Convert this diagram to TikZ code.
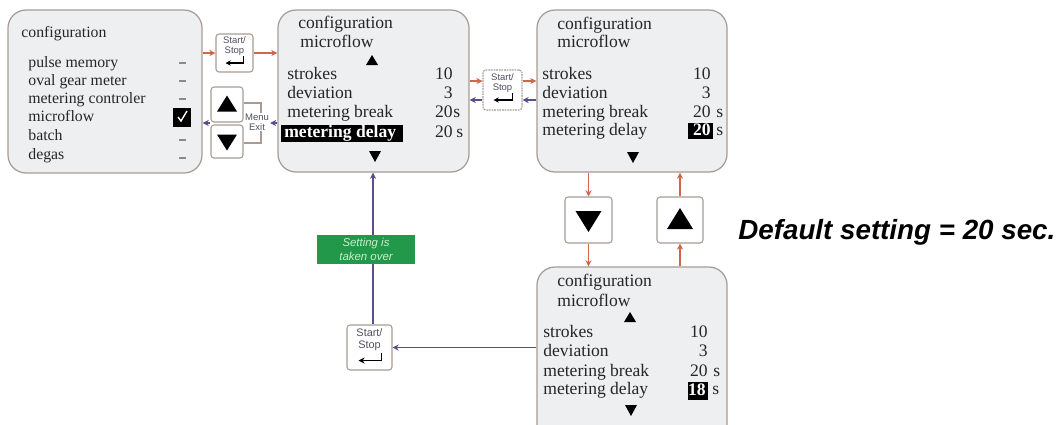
\documentclass[tikz,border=0pt]{standalone}
\usepackage{fontspec}
\setmainfont{Liberation Serif}
\setsansfont{Liberation Sans}
\usetikzlibrary{fit,arrows.meta,calc}
\definecolor{panelfill}{HTML}{EDEFF1}
\definecolor{panelline}{HTML}{A89C94}
\definecolor{redline}{HTML}{D0664A}
\definecolor{purpline}{HTML}{5B4D8C}
\definecolor{greenbox}{HTML}{22994A}
\definecolor{greentext}{HTML}{C8EEC8}
\definecolor{dashgray}{HTML}{8A8A8A}
\definecolor{btntext}{HTML}{505060}
\tikzset{
  panel/.style={draw=panelline, line width=0.7pt, fill=panelfill, rounded corners=0.36cm, inner sep=0pt},
  keybox/.style={draw=panelline, line width=0.6pt, fill=white, rounded corners=0.06cm, inner sep=0pt},
  ptxt/.style={anchor=base west, inner sep=0pt, font=\fontsize{10}{12}\selectfont, text=black!85},
  ltxt/.style={anchor=base west, inner sep=0pt, font=\fontsize{9}{11}\selectfont, text=black!85},
  vtxt/.style={anchor=base east, inner sep=0pt, font=\fontsize{10}{12}\selectfont, text=black!85},
  redarr/.style={draw=redline, line width=0.6pt, -{Stealth[length=3.5pt,width=3.5pt]}},
  purarr/.style={draw=purpline, line width=0.7pt, -{Stealth[length=3.5pt,width=3.5pt]}},
  sstxt/.style={font=\sffamily\fontsize{5.4}{5.8}\selectfont, text=btntext, align=center, inner sep=0pt},
}
\begin{document}
\begin{tikzpicture}[x=0.02cm, y=-0.02cm]
\clip (0,0) rectangle (1060,424);
\fill[white] (0,0) rectangle (1060,424);

% ---------- panels ----------
\node[panel, fit={(8,10) (202,173)}] (b1) {};
\node[panel, fit={(278,10) (469,172)}] (b2) {};
\node[panel, fit={(537,10) (727,172)}] (b3) {};
\node[panel, fit={(537,267) (727,445)}] (b4) {};

% ---------- panel 1 text ----------
\node[ltxt] (t1a) at (21,37) {configuration};
\node[ltxt] (t1b) at (28,67) {pulse memory};
\node[ltxt] (t1c) at (28,85) {oval gear meter};
\node[ltxt] (t1d) at (28,103) {metering controler};
\node[ltxt] (t1e) at (28,121) {microflow};
\node[ltxt] (t1f) at (28,140) {batch};
\node[ltxt] (t1g) at (28,159) {degas};
\foreach \yy in {63,81,99,140,158} \draw[dashgray, line width=0.6pt] (179,\yy) -- (186,\yy);
\node[fill=black, minimum width=0.36cm, minimum height=0.38cm, inner sep=0pt] (chk) at (182,117) {};
\draw[white, line width=0.8pt] (178,117) -- (181,121) -- (187,111);

% ---------- panel 2 text ----------
\node[ptxt] (t2a) at (298,28) {configuration};
\node[ptxt] (t2b) at (300,47) {microflow};
\fill (366,65) -- (378,65) -- (372,55) -- cycle;
\node[ptxt] (t2c) at (287,79) {strokes};
\node[ptxt] (t2d) at (287,98) {deviation};
\node[ptxt] (t2e) at (287,117) {metering break};
\fill[black] (281,125) rectangle (403,142);
\node[ptxt, text=white, font=\fontsize{10}{12}\selectfont\bfseries] (t2f) at (284,137) {metering delay};
\node[vtxt] (v2a) at (453,79) {10};
\node[vtxt] (v2b) at (453,98) {3};
\node[vtxt] (v2c) at (453,117) {20};
\node[ptxt] (v2cs) at (453,117) {s};
\node[vtxt] (v2d) at (453,137) {20};
\node[ptxt] (v2ds) at (456,137) {s};
\fill (369,151) -- (381,151) -- (375,162) -- cycle;

% ---------- panel 3 text ----------
\node[ptxt] (t3a) at (557,29) {configuration};
\node[ptxt] (t3b) at (557,47) {microflow};
\node[ptxt] (t3c) at (542,79) {strokes};
\node[ptxt] (t3d) at (542,98) {deviation};
\node[ptxt] (t3e) at (542,117) {metering break};
\node[ptxt] (t3f) at (542,135) {metering delay};
\node[vtxt] (v3a) at (711,79) {10};
\node[vtxt] (v3b) at (711,98) {3};
\node[vtxt] (v3c) at (711,117) {20};
\node[ptxt] (v3cs) at (716,117) {s};
\fill[black] (688,123) rectangle (713,139);
\node[vtxt, text=white, font=\fontsize{10}{12}\selectfont\bfseries] (v3d) at (711,135) {20};
\node[ptxt] (v3ds) at (716,135) {s};
\fill (627,152) -- (639,152) -- (633,163) -- cycle;

% ---------- panel 4 text ----------
\node[ptxt] (t4a) at (557,286) {configuration};
\node[ptxt] (t4b) at (557,306) {microflow};
\fill (624,322) -- (636,322) -- (630,312) -- cycle;
\node[ptxt] (t4c) at (543,337) {strokes};
\node[ptxt] (t4d) at (543,356) {deviation};
\node[ptxt] (t4e) at (543,376) {metering break};
\node[ptxt] (t4f) at (543,394) {metering delay};
\node[vtxt] (v4a) at (708,337) {10};
\node[vtxt] (v4b) at (708,356) {3};
\node[vtxt] (v4c) at (708,376) {20};
\node[ptxt] (v4cs) at (713,376) {s};
\fill[black] (688,382) rectangle (708,400);
\node[vtxt, text=white, font=\fontsize{10}{12}\selectfont\bfseries] (v4d) at (706,395) {18};
\node[ptxt] (v4ds) at (712,394) {s};
\fill (625,405) -- (637,405) -- (631,416) -- cycle;

% ---------- keys ----------
\node[keybox, fit={(216,34) (253,72)}] (s1) {};
\node[sstxt] (s1t) at ($(s1.center)+(0,-7)$) {Start/\\Stop};
\draw[black, line width=1pt, -{Stealth[length=3pt,width=3pt]}] ($(s1.center)+(9,3)$) -- ($(s1.center)+(9,10)$) -- ($(s1.center)+(-9,10)$);

\node[keybox, fit={(211,87) (243,122)}] (up1) {};
\fill ($(up1.center)+(-10,7)$) -- ($(up1.center)+(10,7)$) -- ($(up1.center)+(0,-9)$) -- cycle;
\node[keybox, fit={(211,125) (243,158)}] (dn1) {};
\fill ($(dn1.center)+(-10,-7)$) -- ($(dn1.center)+(10,-7)$) -- ($(dn1.center)+(0,9)$) -- cycle;
\draw[panelline, line width=0.6pt] (up1.east |- 0,103) -- (261,103) -- (261,143) -- (dn1.east |- 0,143);
\node[sstxt, fill=white, inner sep=0.5pt] (me) at (257,122) {Menu\\Exit};

\node[keybox, dashed, dash pattern=on 1pt off 0.5pt, fit={(483,70) (522,110)}] (s2) {};
\node[sstxt] (s2t) at ($(s2.center)+(0,-7)$) {Start/\\Stop};
\draw[black, line width=1pt, -{Stealth[length=3pt,width=3pt]}] ($(s2.center)+(10,3)$) -- ($(s2.center)+(10,10)$) -- ($(s2.center)+(-9,10)$);

\node[keybox, fit={(565,197) (612,243)}] (dn2) {};
\fill ($(dn2.center)+(-13,-9)$) -- ($(dn2.center)+(13,-9)$) -- ($(dn2.center)+(0,12)$) -- cycle;
\node[keybox, fit={(657,197) (703,243)}] (up2) {};
\fill ($(up2.center)+(-13,9)$) -- ($(up2.center)+(13,9)$) -- ($(up2.center)+(0,-12)$) -- cycle;

\node[keybox, fit={(347,325) (392,370)}] (s3) {};
\node[sstxt, font=\sffamily\fontsize{6.2}{6.7}\selectfont] (s3t) at ($(s3.center)+(0,-8)$) {Start/\\Stop};
\draw[black, line width=1.1pt, -{Stealth[length=3.5pt,width=3.5pt]}] ($(s3.center)+(12,5)$) -- ($(s3.center)+(12,13)$) -- ($(s3.center)+(-11,13)$);

% ---------- connectors ----------
\coordinate (ry) at (0,81);
\coordinate (py) at (0,100);
\coordinate (lx) at (373,0);
\coordinate (my) at (0,123);
\draw[redarr] (b1.east |- s1.west) -- (s1.west);
\draw[redarr] (s1.east) -- (s1.east -| b2.west);
\draw[purarr] (b2.west |- my) -- (me.east |- my);
\draw[purarr] (up1.west |- my) -- (b1.east |- my);
\draw[redarr] (b2.east |- ry) -- (s2.west |- ry);
\draw[redarr] (s2.east |- ry) -- (b3.west |- ry);
\draw[purarr] (b3.west |- py) -- (s2.east |- py);
\draw[purarr] (s2.west |- py) -- (b2.east |- py);
\draw[redarr] (dn2.north |- b3.south) -- (dn2.north);
\draw[redarr] (dn2.south) -- (dn2.south |- b4.north);
\draw[redarr] (up2.south |- b4.north) -- (up2.south);
\draw[redarr] (up2.north) -- (up2.north |- b3.south);
\draw[purarr] (lx |- s3.north) -- (lx |- b2.south);
\draw[purarr] (s3.east -| b4.west) -- (s3.east);

% ---------- green label ----------
\node[fill=greenbox, inner sep=0pt, fit={(317,235) (415,264)}] (gb) {};
\node[font=\sffamily\itshape\fontsize{6.5}{8}\selectfont, text=greentext, align=center, inner sep=0pt] (gbt) at (gb.center) {Setting is\\taken over};

% ---------- caption ----------
\node[font=\sffamily\bfseries\itshape\fontsize{15.8}{18}\selectfont, anchor=west, inner sep=0pt] (cap) at (738,232) {Default setting = 20 sec.};
\end{tikzpicture}
\end{document}
